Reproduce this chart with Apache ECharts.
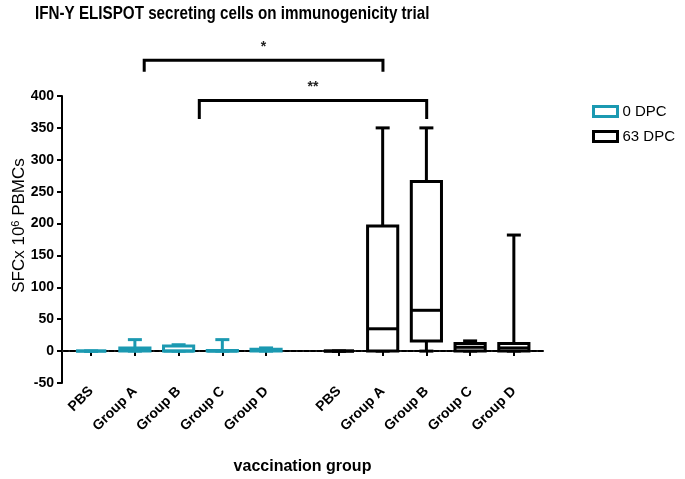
<!DOCTYPE html>
<html>
<head>
<meta charset="utf-8">
<script src="https://cdn.jsdelivr.net/npm/echarts@6.0.0/dist/echarts.min.js"></script>
<style>
  html, body { margin: 0; padding: 0; background: #fff; }
  #main { width: 685px; height: 479px; }
</style>
</head>
<body>
<div id="main"></div>
<script>
// groups on the x axis
var groups = ['PBS', 'Group A', 'Group B', 'Group C', 'Group D'];

// box stats per group: [min, q1, median, q3, max]
var dpc0 = [
  [0, 0, 0, 0, 0],
  [0, 0, 1, 5, 18],
  [0, 0, 0, 8, 10],
  [0, 0, 0, 1, 18],
  [0, 0, 1, 3, 5]
];
var dpc63 = [
  [0, 0, 0, 0, 0],
  [0, 0, 35, 196, 350],
  [0, 16, 64, 266, 350],
  [0, 0, 6, 12, 16],
  [0, 0, 5, 12, 182]
];

// significance brackets: [x from, x to, top, bottom of drop, label]
var brackets = [
  [1.88, 7.34, 456, 438, '*'],
  [3.14, 8.34, 393, 364, '**']
];

var yTicks = [-50, 0, 50, 100, 150, 200, 250, 300, 350, 400];
var xRange = [0, 11];

var TEAL = '#1b99b1';
var BLACK = '#000';
var OFFSET0 = 2 / 3;      // first block starts here
var OFFSET63 = 19 / 3;    // second block, after the gap
var BOX_W = 0.69;
var CAP_W = 0.32;

var positions = [];
var labels = [];
groups.forEach(function (g, i) { positions.push(OFFSET0 + i); labels.push(g); });
groups.forEach(function (g, i) { positions.push(OFFSET63 + i); labels.push(g); });

function toRows(stats, offset) {
  return stats.map(function (s, i) { return [offset + i].concat(s); });
}

function boxRenderer(color) {
  return function (params, api) {
    var x = api.value(0);
    var pMin = api.coord([x, api.value(1)]);
    var pQ1 = api.coord([x, api.value(2)]);
    var pMed = api.coord([x, api.value(3)]);
    var pQ3 = api.coord([x, api.value(4)]);
    var pMax = api.coord([x, api.value(5)]);
    var half = api.size([BOX_W, 0])[0] / 2;
    var cap = api.size([CAP_W, 0])[0] / 2;
    var cx = pMin[0];
    var st = { stroke: color, lineWidth: 3, fill: null };
    function line(x1, y1, x2, y2) {
      return { type: 'line', shape: { x1: x1, y1: y1, x2: x2, y2: y2 }, style: st };
    }
    return {
      type: 'group',
      children: [
        line(cx, pMax[1], cx, pQ3[1]),
        line(cx, pQ1[1], cx, pMin[1]),
        line(cx - cap, pMax[1], cx + cap, pMax[1]),
        line(cx - cap, pMin[1], cx + cap, pMin[1]),
        { type: 'rect', shape: { x: cx - half, y: pQ3[1], width: half * 2, height: pQ1[1] - pQ3[1] },
          style: { stroke: color, lineWidth: 3, fill: '#fff' } },
        line(cx - half, pMed[1], cx + half, pMed[1])
      ]
    };
  };
}

function bracketRenderer(params, api) {
  var a = api.coord([api.value(0), api.value(2)]);
  var b = api.coord([api.value(1), api.value(2)]);
  var bottom = api.coord([api.value(0), api.value(3)])[1];
  return {
    type: 'group',
    children: [
      { type: 'polyline', shape: { points: [[a[0], bottom], a, b, [b[0], bottom]] },
        style: { stroke: BLACK, lineWidth: 3, fill: null } },
      { type: 'text', x: (a[0] + b[0]) / 2, y: a[1] - 13,
        style: { text: brackets[params.dataIndex][4], align: 'center', verticalAlign: 'middle',
                 font: 'bold 14px "Liberation Sans", Arial, sans-serif', fill: '#222' } }
    ]
  };
}

// dotted zero line, drawn through the axes
function zeroRenderer(params, api) {
  var a = api.coord([xRange[0], 0]);
  var b = api.coord([xRange[1], 0]);
  return {
    type: 'line',
    shape: { x1: a[0], y1: a[1], x2: b[0], y2: b[1] },
    style: { stroke: '#222', lineWidth: 1.6, lineDash: [1.5, 5] }
  };
}

var chart = echarts.init(document.getElementById('main'));

var option = {
  animation: false,
  textStyle: { fontFamily: '"Liberation Sans", Arial, sans-serif' },
  // title drawn as a narrowed text, the original uses a condensed face
  graphic: [{
    type: 'text',
    x: 35,
    y: 4,
    scaleX: 0.8,
    style: {
      text: 'IFN-Y ELISPOT secreting cells on immunogenicity trial',
      font: 'bold 19px "Liberation Sans", Arial, sans-serif',
      fill: '#000'
    }
  }],
  legend: {
    orient: 'vertical',
    left: 587,
    top: 99,
    itemWidth: 24,
    itemHeight: 10,
    itemGap: 10,
    textStyle: { fontSize: 15, color: '#000' },
    data: [
      { name: '0 DPC', icon: 'rect', itemStyle: { color: '#fff', borderColor: TEAL, borderWidth: 3 } },
      { name: '63 DPC', icon: 'rect', itemStyle: { color: '#fff', borderColor: BLACK, borderWidth: 3 } }
    ]
  },
  grid: { left: 62, right: 142, top: 96, bottom: 96, outerBoundsMode: 'none' },
  xAxis: {
    type: 'value',
    min: xRange[0],
    max: xRange[1],
    name: 'vaccination group',
    nameLocation: 'middle',
    nameGap: 76,
    nameMoveOverlap: false,
    nameTextStyle: { fontSize: 16, fontWeight: 'bold', color: '#000' },
    splitLine: { show: false },
    axisLine: { lineStyle: { color: BLACK, width: 2 } },
    axisTick: { customValues: positions, length: 5, lineStyle: { color: BLACK, width: 2 } },
    axisLabel: {
      customValues: positions,
      rotate: 45,
      fontSize: 14,
      fontWeight: 'bold',
      color: '#000',
      margin: 6,
      formatter: function (v) {
        var best = 0;
        positions.forEach(function (p, i) {
          if (Math.abs(p - v) < Math.abs(positions[best] - v)) best = i;
        });
        return labels[best];
      }
    }
  },
  yAxis: {
    type: 'value',
    min: yTicks[0],
    max: yTicks[yTicks.length - 1],
    interval: 50,
    name: 'SFCx 10{sup|6} PBMCs',
    nameLocation: 'middle',
    nameGap: 33,
    nameMoveOverlap: false,
    nameTextStyle: {
      fontSize: 17, color: '#000',
      padding: [0, 0, 0, 28],
      rich: { sup: { fontSize: 11, verticalAlign: 'top', padding: [0, 0, 8, 0] } }
    },
    splitLine: { show: false },
    axisLine: { show: true, lineStyle: { color: BLACK, width: 2 } },
    axisTick: { show: true, length: 5, lineStyle: { color: BLACK, width: 2 } },
    axisLabel: { fontSize: 14, fontWeight: 'bold', color: '#000', margin: 8 }
  },
  series: [
    {
      name: 'zero',
      type: 'custom',
      z: 1,
      silent: true,
      renderItem: zeroRenderer,
      data: [[xRange[0], 0]]
    },
    {
      name: '0 DPC',
      type: 'custom',
      z: 3,
      itemStyle: { color: '#fff', borderColor: TEAL, borderWidth: 3 },
      renderItem: boxRenderer(TEAL),
      encode: { x: 0, y: [1, 2, 3, 4, 5] },
      data: toRows(dpc0, OFFSET0)
    },
    {
      name: '63 DPC',
      type: 'custom',
      z: 3,
      itemStyle: { color: '#fff', borderColor: BLACK, borderWidth: 3 },
      renderItem: boxRenderer(BLACK),
      encode: { x: 0, y: [1, 2, 3, 4, 5] },
      data: toRows(dpc63, OFFSET63)
    },
    {
      name: 'brackets',
      type: 'custom',
      z: 3,
      clip: false,
      renderItem: bracketRenderer,
      encode: { x: [0, 1], y: [2, 3] },
      data: brackets.map(function (b) { return b.slice(0, 4); })
    }
  ]
};

chart.setOption(option);
</script>
</body>
</html>
